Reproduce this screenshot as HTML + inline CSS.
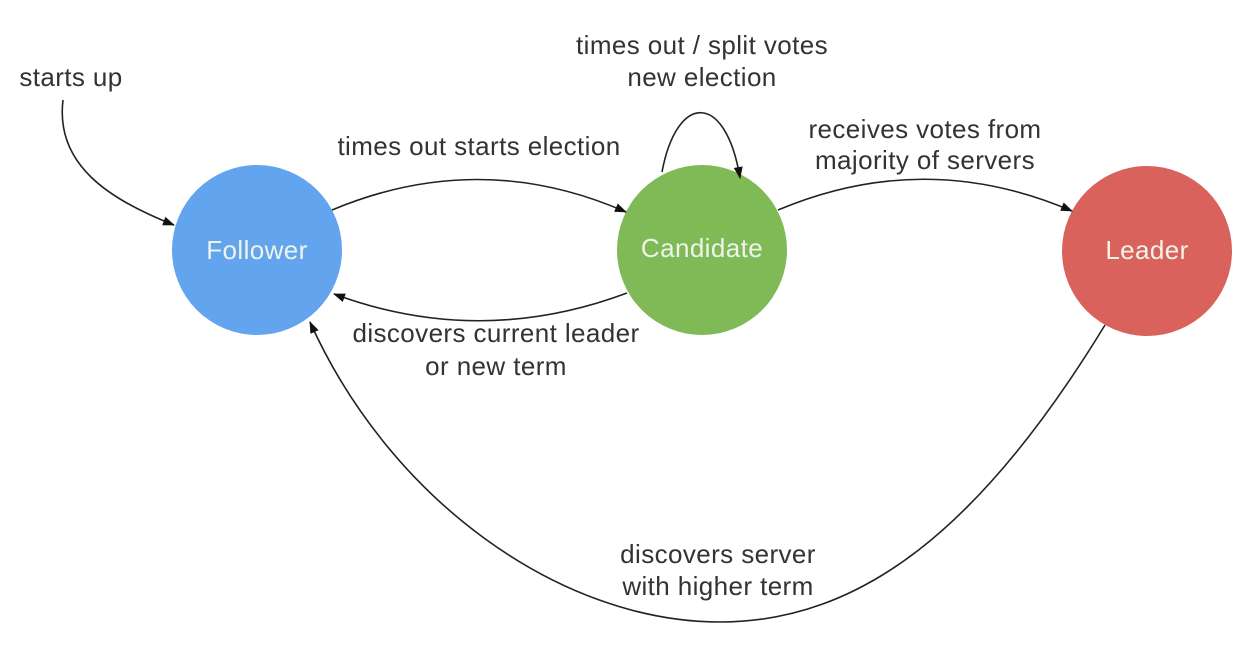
<!DOCTYPE html>
<html><head><meta charset="utf-8"><style>
html,body{margin:0;padding:0;background:#fff;}
svg{display:block;}
text{font-family:"Liberation Sans",sans-serif;font-size:26px;letter-spacing:0.4px;fill:#333;text-anchor:middle;dominant-baseline:middle;}
.w{fill:#eef4ea;}
</style></head><body>
<svg width="1258" height="652" viewBox="0 0 1258 652">
<defs><marker id="a" markerWidth="12" markerHeight="9" refX="11" refY="4.5" orient="auto" markerUnits="userSpaceOnUse"><path d="M0,0 L12,4.5 L0,9 Z" fill="#111"/></marker></defs>
<circle cx="257" cy="250" r="85" fill="#63a4ef"/>
<circle cx="702" cy="250" r="85" fill="#7fba57"/>
<circle cx="1147" cy="251" r="85" fill="#d9625c"/>
<text x="257" y="252" class="w">Follower</text>
<text x="702" y="250" class="w">Candidate</text>
<text x="1147" y="252" class="w">Leader</text>
<g fill="none" stroke="#222" stroke-width="1.6">
<path d="M63,100 C55,165 110,200 174,225" marker-end="url(#a)"/>
<path d="M332,210 Q480,148 626,212" marker-end="url(#a)"/>
<path d="M627,293 Q480,348 334,294" marker-end="url(#a)"/>
<path d="M662,172 C677,92 726,92 740,178" marker-end="url(#a)"/>
<path d="M778,210 Q925,148 1072,211" marker-end="url(#a)"/>
<path d="M1105,325 C980,530 860,622 720,622 C560,622 390,500 310,322" marker-end="url(#a)"/>
</g>
<text x="71" y="79">starts up</text>
<text x="479" y="148">times out starts election</text>
<text x="702" y="47">times out / split votes</text>
<text x="702" y="79">new election</text>
<text x="925" y="131">receives votes from</text>
<text x="925" y="162">majority of servers</text>
<text x="496" y="335">discovers current leader</text>
<text x="496" y="368">or new term</text>
<text x="718" y="556">discovers server</text>
<text x="718" y="588">with higher term</text>
</svg>
</body></html>
